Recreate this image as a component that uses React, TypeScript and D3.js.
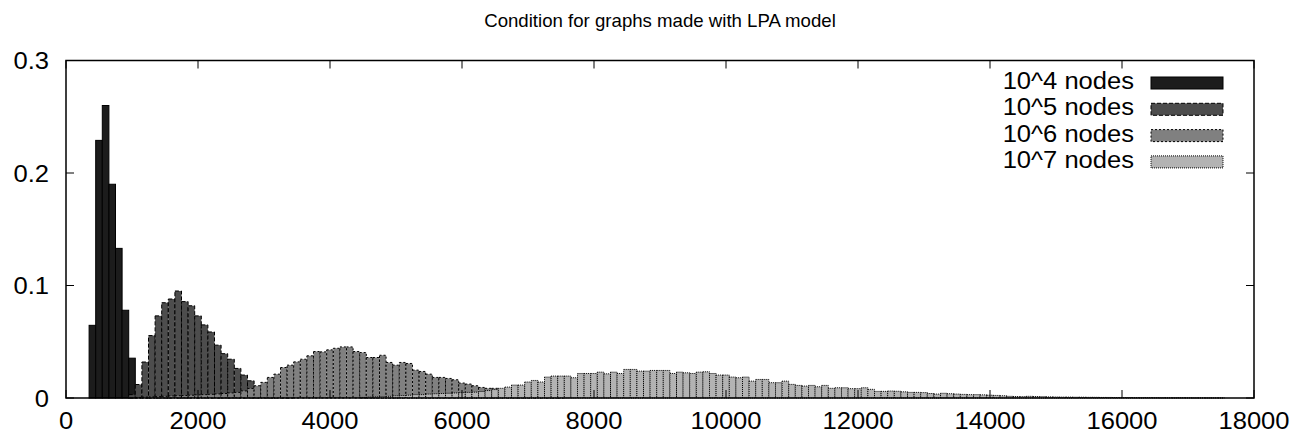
import { useRef, useEffect } from 'react';
import * as d3 from 'd3';

// histogram bins are 100 wide, values given from the first bin centre
const binWidth = 100;

const nodes1e4Start = 400;
const nodes1e4 = [0.0646, 0.229, 0.26, 0.19, 0.133, 0.078, 0.0354];

const nodes1e5Start = 1000;
const nodes1e5 = [
  0.003, 0.012, 0.032, 0.0555, 0.073, 0.0847, 0.088, 0.0951, 0.0857, 0.082,
  0.073, 0.065, 0.0587, 0.047, 0.0394, 0.0345, 0.0263, 0.0204, 0.0153, 0.009,
  0.006, 0.004, 0.0025, 0.0015, 0.001,
];

const nodes1e6Start = 1100;
const nodes1e6 = [
  0.0005, 0.0008, 0.001, 0.0012, 0.0015, 0.0018, 0.002, 0.0022, 0.0025, 0.0028,
  0.003, 0.0033, 0.0036, 0.004, 0.0045, 0.005, 0.0063, 0.0085, 0.0109, 0.0139,
  0.0183, 0.0212, 0.0271, 0.0292, 0.0321, 0.0345, 0.0375, 0.0413, 0.041, 0.0428,
  0.0442, 0.0454, 0.0454, 0.0413, 0.0404, 0.036, 0.036, 0.038, 0.0316, 0.0292,
  0.0316, 0.0307, 0.0248, 0.0236, 0.0212, 0.0183, 0.0183, 0.0174, 0.0162, 0.0133,
  0.0124, 0.0109, 0.0094, 0.0086, 0.0086, 0.007, 0.006, 0.005, 0.004, 0.0035,
  0.003, 0.0025, 0.002, 0.0015, 0.001,
];

const nodes1e7Start = 4500;
const nodes1e7 = [
  0.0005, 0.0008, 0.001, 0.0012, 0.0015, 0.002, 0.0022, 0.0025, 0.003, 0.003,
  0.0035, 0.0038, 0.004, 0.0042, 0.0045, 0.0048, 0.005, 0.0052, 0.0058, 0.0066,
  0.0075, 0.0086, 0.0097, 0.0115, 0.0115, 0.0142, 0.0156, 0.0142, 0.0186, 0.0195,
  0.0195, 0.0195, 0.018, 0.0218, 0.0218, 0.0218, 0.023, 0.0215, 0.023, 0.0218,
  0.0254, 0.0254, 0.0239, 0.0239, 0.0245, 0.0245, 0.0245, 0.0218, 0.023, 0.0224,
  0.0218, 0.023, 0.0233, 0.0218, 0.0204, 0.0204, 0.0186, 0.018, 0.0186, 0.015,
  0.0165, 0.0165, 0.0136, 0.0136, 0.015, 0.0121, 0.0112, 0.0106, 0.0112, 0.01,
  0.0112, 0.0086, 0.0091, 0.0091, 0.0083, 0.0083, 0.0091, 0.0077, 0.0059, 0.0059,
  0.0062, 0.006, 0.0055, 0.005, 0.005, 0.0048, 0.004, 0.0035, 0.0042, 0.0038,
  0.0035, 0.0032, 0.003, 0.003, 0.0028, 0.0025, 0.0023, 0.002, 0.0015, 0.0013,
  0.0012, 0.0015, 0.0013, 0.0012, 0.001, 0.0009, 0.0008, 0.0008, 0.0007, 0.0007,
  0.0006, 0.0006, 0.0005, 0.0005, 0.0004, 0.0004, 0.0004, 0.0003, 0.0003, 0.0003,
  0.0003, 0.0002, 0.0002, 0.0002, 0.0002, 0.0002, 0.0001, 0.0001, 0.0001, 0.0001,
  0.0001,
];

const seriesNames = ['10^4 nodes', '10^5 nodes', '10^6 nodes', '10^7 nodes'];
const xTicks = [0, 2000, 4000, 6000, 8000, 10000, 12000, 14000, 16000, 18000];
const yTicks = [0, 0.1, 0.2, 0.3];

const FONT = "'Liberation Sans', Arial, Helvetica, sans-serif";
// the original output has slightly wide glyphs
const STRETCH = 1.065;

export default function App() {
  const svgRef = useRef<SVGSVGElement>(null);

  useEffect(() => {
    if (!svgRef.current) return;
    const root = d3.select(svgRef.current);
    root.selectAll('*').remove();

    const W = 1311;
    const H = 439;
    const margin = { top: 60.5, right: 57, bottom: 41, left: 66 };
    const width = W - margin.left - margin.right;
    const height = H - margin.top - margin.bottom;

    const x = d3.scaleLinear().domain([0, 18000]).range([0, width]);
    const y = d3.scaleLinear().domain([0, 0.3]).range([height, 0]);

    const g = root.append('g').attr('transform', `translate(${margin.left},${margin.top})`);

    const label = (parent: any, tx: number, ty: number, str: string, anchor: string, size: number) =>
      parent.append('text')
        .attr('transform', `translate(${tx},${ty}) scale(${STRETCH},1)`)
        .attr('text-anchor', anchor)
        .style('font-family', FONT)
        .style('font-size', `${size}px`)
        .style('fill', '#000')
        .text(str);

    const series = [
      { start: nodes1e4Start, values: nodes1e4, fill: '#1c1c1c', dash: null },
      { start: nodes1e5Start, values: nodes1e5, fill: '#4d4d4d', dash: '4,2' },
      { start: nodes1e6Start, values: nodes1e6, fill: '#808080', dash: '2,2' },
      { start: nodes1e7Start, values: nodes1e7, fill: '#b3b3b3', dash: '1,1' },
    ];

    // bars, later series over earlier ones
    series.forEach((s, si) => {
      const bars = s.values.map((v, i) => ({ c: s.start + i * binWidth, v }));
      g.append('g')
        .selectAll('rect')
        .data(bars)
        .enter()
        .append('rect')
        .attr('x', d => x(d.c - binWidth / 2))
        .attr('width', d => x(d.c + binWidth / 2) - x(d.c - binWidth / 2))
        .attr('y', d => y(d.v))
        .attr('height', d => y(0) - y(d.v))
        .attr('fill', s.fill)
        .attr('stroke', '#000')
        .attr('stroke-width', 1)
        .attr('stroke-dasharray', s.dash ?? null)
        .attr('class', `s${si}`);
    });

    // ticks (inward, mirrored)
    const tickLen = 8;
    const tk = g.append('g').attr('stroke', '#000').attr('stroke-width', 1);
    xTicks.forEach(t => {
      tk.append('line').attr('x1', x(t)).attr('x2', x(t)).attr('y1', height).attr('y2', height - tickLen);
      tk.append('line').attr('x1', x(t)).attr('x2', x(t)).attr('y1', 0).attr('y2', tickLen);
    });
    yTicks.forEach(t => {
      tk.append('line').attr('x1', 0).attr('x2', tickLen).attr('y1', y(t)).attr('y2', y(t));
      tk.append('line').attr('x1', width).attr('x2', width - tickLen).attr('y1', y(t)).attr('y2', y(t));
    });

    // border
    g.append('rect')
      .attr('x', 0)
      .attr('y', 0)
      .attr('width', width)
      .attr('height', height)
      .attr('fill', 'none')
      .attr('stroke', '#000')
      .attr('stroke-width', 1.5);

    // tick labels
    xTicks.forEach(t => label(g, x(t), height + 31, String(t), 'middle', 24));
    yTicks.forEach(t => label(g, -17, y(t) + 8.5, t === 0 ? '0' : t.toFixed(1), 'end', 24));

    // title
    label(root, margin.left + width / 2, 27, 'Condition for graphs made with LPA model', 'middle', 17.5);

    // legend
    series.forEach((s, i) => {
      const cy = 22.5 + i * 26.3;
      label(g, 1134 - margin.left, cy + 6, seriesNames[i], 'end', 24);
      g.append('rect')
        .attr('x', 1151 - margin.left)
        .attr('y', cy - 6)
        .attr('width', 72)
        .attr('height', 12)
        .attr('fill', s.fill)
        .attr('stroke', '#000')
        .attr('stroke-width', 1)
        .attr('stroke-dasharray', s.dash ?? null);
    });
  }, []);

  return (
    <svg
      ref={svgRef}
      width={1311}
      height={439}
      style={{ position: 'absolute', left: 0, top: 0, background: '#fff', display: 'block' }}
    />
  );
}
